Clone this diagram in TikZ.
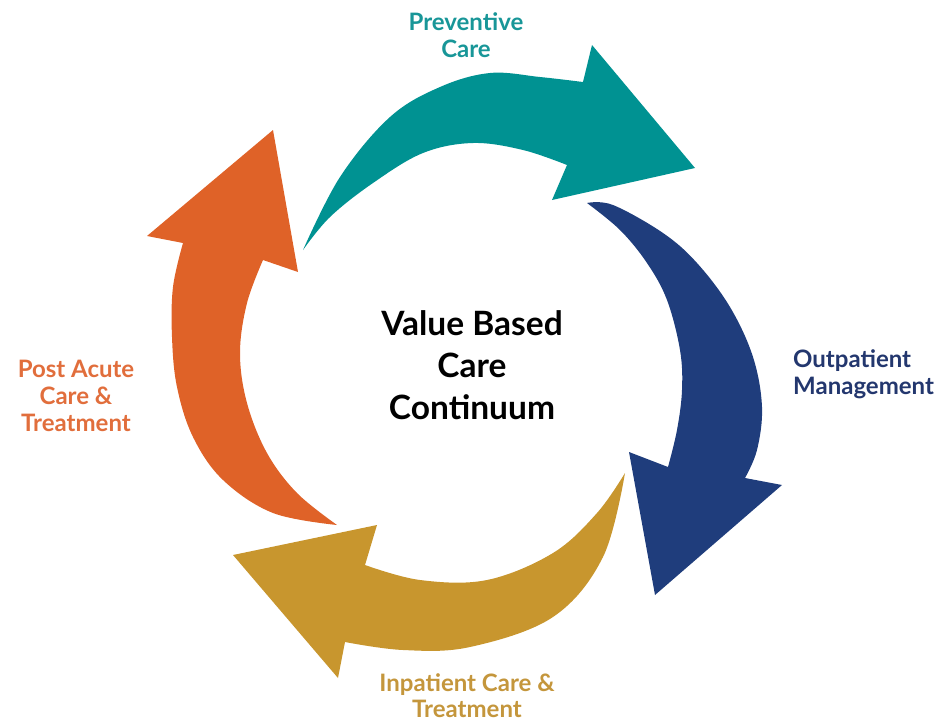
\documentclass[tikz,border=0pt]{standalone}
\usepackage{fontspec}
\setmainfont{Lato}
\definecolor{cteal}{RGB}{0,146,146}
\definecolor{cblue}{RGB}{31,61,124}
\definecolor{cgold}{RGB}{200,150,46}
\definecolor{corange}{RGB}{223,98,40}
\definecolor{tteal}{RGB}{24,150,152}
\definecolor{tblue}{RGB}{35,55,110}
\definecolor{tgold}{RGB}{196,150,60}
\definecolor{torange}{RGB}{225,110,60}
\begin{document}
\begin{tikzpicture}[x=1pt,y=-1pt,
  lab/.style={font=\fontsize{24}{27}\selectfont\bfseries, align=center, inner sep=0pt},
  ctr/.style={font=\fontsize{33.5}{42}\selectfont\bfseries, align=center, inner sep=0pt}]
\useasboundingbox (0,0) rectangle (946,724);
% teal
\fill[cteal] plot[smooth,tension=0.6] coordinates {(303,250) (340,177) (390,117) (440,87) (490,73) (540,77) (583,82)}
  -- (592,45) -- (695,168) -- (552,200) -- (567,165)
  -- plot[smooth,tension=0.6] coordinates {(567,165) (523,150) (473,143) (423,153) (373,183) (330,217) (303,250)} -- cycle;
% blue
\fill[cblue] plot[smooth,tension=0.6] coordinates {(587,203) (613,205) (663,233) (697,263) (730,307) (753,357) (762,407) (757,450) (745,478)}
  -- (782,485) -- (655,595) -- (629,452) -- (668,467)
  -- plot[smooth,tension=0.6] coordinates {(668,467) (677,430) (682,390) (680,350) (667,300) (647,263) (620,230) (587,203)} -- cycle;
% gold
\fill[cgold] plot[smooth,tension=0.6] coordinates {(625,473) (603,557) (553,617) (470,647) (403,650) (345,642)}
  -- (338,678) -- (233,555) -- (377,525) -- (365,565)
  -- plot[smooth,tension=0.6] coordinates {(365,565) (420,580) (487,580) (553,553) (597,513) (625,473)} -- cycle;
% orange
\fill[corange] plot[smooth,tension=0.6] coordinates {(337,525) (273,513) (223,480) (193,437) (177,387) (172,337) (173,287) (183,243)}
  -- (147,236) -- (273,130) -- (298,272) -- (263,260)
  -- plot[smooth,tension=0.6] coordinates {(263,260) (247,303) (240,353) (247,403) (267,453) (297,493) (337,525)} -- cycle;
\node[lab, text=tteal] (prev) at (466,35) {Preventive\\Care};
\node[lab, text=tblue, align=left, anchor=west] (outp) at (793,374) {Outpatient\\Management};
\node[lab, text=tgold, font=\fontsize{24}{26}\selectfont\bfseries] (inp) at (467,696) {Inpatient Care \&\\Treatment};
\node[lab, text=torange] (post) at (76,396) {Post Acute\\Care \&\\Treatment};
\node[ctr] (center) at (472,365) {Value Based\\Care\\Continuum};
\end{tikzpicture}
\end{document}
